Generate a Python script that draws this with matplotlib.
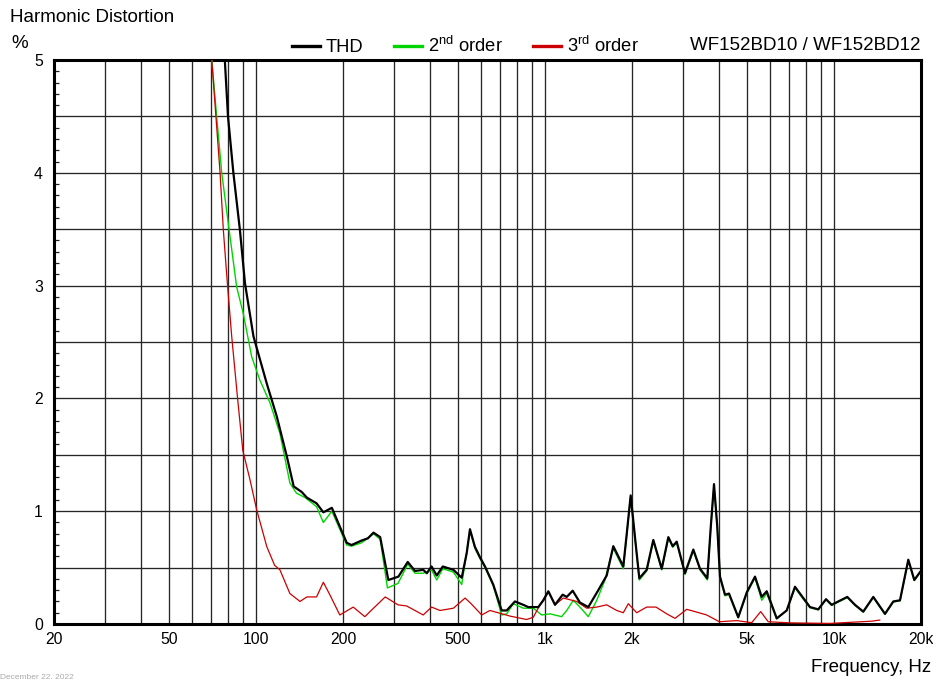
import matplotlib
matplotlib.use("Agg")
import matplotlib.pyplot as plt
from matplotlib.ticker import FixedLocator, FixedFormatter, MultipleLocator, NullFormatter

plt.rcParams['font.family'] = ['Liberation Sans', 'DejaVu Sans']
plt.rcParams['mathtext.fontset'] = 'custom'
plt.rcParams['mathtext.rm'] = 'Liberation Sans'
plt.rcParams['mathtext.it'] = 'Liberation Sans:italic'

# ---- data (frequency in Hz, distortion in %) ----
thd_f = [78, 80, 83.5, 88, 91.6, 98, 109, 118, 128, 135, 144, 150, 162, 171, 183,
         206, 214, 232, 244, 255, 269, 287, 311, 335, 355, 379, 390, 405, 422, 443,
         482, 515, 536, 550, 572, 596, 620, 662, 708, 737, 787, 841, 875, 948, 987,
         1027, 1083, 1151, 1189, 1247, 1321, 1412, 1529, 1635, 1723, 1866, 1918, 1979,
         2048, 2120, 2248, 2370, 2534, 2672, 2766, 2856, 3050, 3260, 3438, 3644, 3746,
         3844, 3946, 4032, 4196, 4332, 4663, 4990, 5329, 5622, 5850, 6336, 6860, 7328,
         7830, 8258, 8822, 9384, 9818, 10348, 11118, 11820, 12628, 13676, 15012, 16040,
         16918, 18076, 18960, 19840]
thd_v = [5.0, 4.5, 4.0, 3.49, 3.02, 2.55, 2.13, 1.84, 1.48, 1.22, 1.17, 1.12, 1.07, 0.99, 1.03,
         0.72, 0.70, 0.74, 0.76, 0.81, 0.77, 0.39, 0.42, 0.55, 0.47, 0.48, 0.45, 0.51, 0.43, 0.51,
         0.48, 0.41, 0.63, 0.84, 0.685, 0.59, 0.51, 0.35, 0.12, 0.12, 0.20, 0.17, 0.15, 0.15, 0.21,
         0.29, 0.17, 0.26, 0.24, 0.295, 0.19, 0.15, 0.30, 0.43, 0.69, 0.51, 0.80, 1.14,
         0.77, 0.405, 0.48, 0.745, 0.49, 0.77, 0.69, 0.73, 0.45, 0.66, 0.49, 0.405, 0.86,
         1.24, 0.86, 0.42, 0.26, 0.27, 0.06, 0.28, 0.42, 0.24, 0.29, 0.05, 0.12, 0.33,
         0.23, 0.15, 0.13, 0.22, 0.17, 0.20, 0.24, 0.17, 0.11, 0.24, 0.09, 0.20,
         0.21, 0.57, 0.39, 0.46]

h2_f = [70.3, 73.1, 76.1, 80.2, 85.7, 90.4, 96.6, 103.2, 111.8, 121, 131, 138, 148, 162, 171,
        183, 206, 214, 232, 255, 269, 285, 310, 335, 355, 379, 405, 422, 443, 482, 515, 550,
        572, 596, 620, 662, 708, 737, 777, 841, 911, 974, 1041, 1142, 1189, 1253, 1321, 1412,
        1510, 1613, 1678, 1723, 1866, 1918, 1979, 2048, 2120, 2248, 2370, 2534, 2672, 2766,
        2856, 3050, 3260, 3438, 3644, 3746, 3844, 3946, 4032, 4196, 4332, 4663, 4990, 5329,
        5622, 5850, 6336, 6860, 7328, 7830, 8258, 8822, 9384, 9818, 10348, 11118, 11820,
        12628, 13676, 15012, 16040, 16918, 18076, 18960, 19840]
h2_v = [5.0, 4.5, 4.0, 3.55, 2.99, 2.75, 2.37, 2.16, 1.96, 1.69, 1.25, 1.16, 1.12, 1.04, 0.90,
        1.00, 0.70, 0.69, 0.72, 0.80, 0.75, 0.32, 0.36, 0.53, 0.45, 0.45, 0.48, 0.39, 0.49, 0.46,
        0.35, 0.83, 0.67, 0.58, 0.50, 0.34, 0.08, 0.09, 0.18, 0.14, 0.14, 0.08, 0.09, 0.065, 0.12,
        0.21, 0.15, 0.065, 0.21, 0.39, 0.57, 0.67, 0.49, 0.79, 1.13, 0.76, 0.39, 0.47, 0.74, 0.48,
        0.76, 0.68, 0.72, 0.44, 0.65, 0.48, 0.39, 0.85, 1.23, 0.85, 0.41, 0.25, 0.26, 0.055,
        0.27, 0.41, 0.21, 0.27, 0.045, 0.12, 0.32, 0.22, 0.145, 0.125, 0.215, 0.165, 0.195,
        0.235, 0.165, 0.105, 0.235, 0.085, 0.195, 0.205, 0.565, 0.385, 0.455]

h3_f = [70.3, 75.1, 77.1, 79.6, 82.4, 86.2, 90, 95.3, 100.6, 109, 116, 121, 131, 142, 150,
        162, 171, 180, 195, 217, 238, 255, 280, 310, 332, 379, 405, 433, 482, 529, 555, 604,
        645, 757, 864, 911, 961, 1027, 1083, 1157, 1287, 1394, 1510, 1635, 1770, 1866, 1942,
        2076, 2248, 2422, 2638, 2818, 3093, 3304, 3626, 4010, 4606, 5192, 5576, 5922, 7042,
        9686, 13504, 14400]
h3_v = [5.0, 4.0, 3.49, 3.02, 2.55, 2.02, 1.54, 1.28, 1.01, 0.685, 0.52, 0.48, 0.27, 0.20, 0.24,
        0.24, 0.37, 0.26, 0.08, 0.15, 0.065, 0.14, 0.24, 0.17, 0.16, 0.08, 0.15, 0.12, 0.14, 0.23,
        0.18, 0.08, 0.12, 0.07, 0.04, 0.06, 0.17, 0.29, 0.17, 0.23, 0.20, 0.14, 0.15, 0.17, 0.12,
        0.10, 0.18, 0.10, 0.15, 0.15, 0.09, 0.05, 0.13, 0.11, 0.08, 0.02, 0.03, 0.012, 0.11, 0.02,
        0.01, 0.005, 0.025, 0.035]

xtick_vals = [20, 50, 100, 200, 500, 1000, 2000, 5000, 10000, 20000]
xtick_labels = ['20', '50', '100', '200', '500', '1k', '2k', '5k', '10k', '20k']
xgrid_minor = [30, 40, 60, 70, 80, 90, 300, 400, 600, 700, 800, 900,
               3000, 4000, 6000, 7000, 8000, 9000]
ytick_vals = [0, 1, 2, 3, 4, 5]

# ---- figure ----
fig = plt.figure(figsize=(9.33, 6.79), dpi=100)
ax = fig.add_axes([54/933, 1-624/679, 867/933, 564/679])

ax.set_xscale('log')
ax.set_xlim(20, 20000)
ax.set_ylim(0, 5)

ax.xaxis.set_major_locator(FixedLocator(xtick_vals))
ax.xaxis.set_major_formatter(FixedFormatter(xtick_labels))
ax.xaxis.set_minor_locator(FixedLocator(xgrid_minor))
ax.xaxis.set_minor_formatter(NullFormatter())

ax.yaxis.set_major_locator(MultipleLocator(0.5))
ax.yaxis.set_major_formatter(lambda v, p: f'{v:.0f}' if abs(v - round(v)) < 1e-6 else '')
ax.yaxis.set_minor_locator(MultipleLocator(0.1))

grid_kw = dict(color='#262626', linewidth=0.95)
ax.xaxis.grid(True, which='both', **grid_kw)
ax.yaxis.grid(True, which='major', **grid_kw)
ax.set_axisbelow(True)

ax.tick_params(axis='x', which='both', length=0, pad=6, labelsize=11.3)
ax.tick_params(axis='y', which='major', length=0, pad=8, labelsize=11.3)
ax.tick_params(axis='y', which='minor', length=3.5, width=0.9, direction='in', color='#222222')

for s in ax.spines.values():
    s.set_linewidth(2.2)
    s.set_color('black')

l_thd, = ax.plot(thd_f, thd_v, color='black', lw=1.6, label='THD', zorder=3.5)
l_h2, = ax.plot(h2_f, h2_v, color='#00d400', lw=1.0, label=r'2$^{\mathrm{nd}}$ order', zorder=3)
l_h3, = ax.plot(h3_f, h3_v, color='#cc0000', lw=0.9, label=r'3$^{\mathrm{rd}}$ order', zorder=3)

leg = fig.legend(handles=[l_thd, l_h2, l_h3], loc='center left',
                 bbox_to_anchor=(292/933, 1-46/679), ncol=3, frameon=False,
                 fontsize=13.2, handlelength=1.55, handletextpad=0.3,
                 columnspacing=1.65, borderpad=0, borderaxespad=0)
for ln in leg.get_lines():
    ln.set_linewidth(2.4)

fig.text(10/933, 1-18/679, 'Harmonic Distortion', fontsize=13.5, ha='left', va='center')
fig.text(11/933, 1-44/679, '%', fontsize=13.5, ha='left', va='center')
fig.text(920/933, 1-46/679, 'WF152BD10 / WF152BD12', fontsize=13.5, ha='right', va='center')
fig.text(931/933, 1-667/679, 'Frequency, Hz', fontsize=13.5, ha='right', va='center')
fig.text(0/933, 1-677/679, 'December 22, 2022', fontsize=6, color='#aaaaaa', ha='left', va='center')

fig.savefig('out.png', dpi=100, facecolor='white')
